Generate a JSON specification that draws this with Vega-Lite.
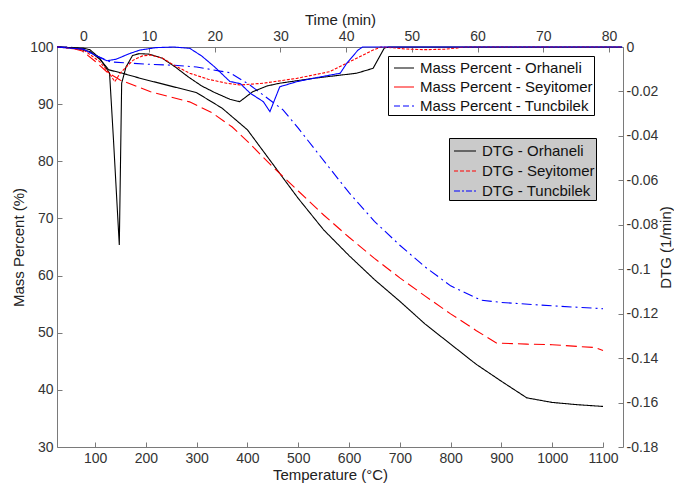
{
  "$schema": "https://vega.github.io/schema/vega-lite/v6.json",
  "width": 566,
  "height": 400,
  "autosize": "none",
  "padding": {"left": 57, "top": 47, "right": 51, "bottom": 37},
  "background": "white",
  "datasets": {
    "mass": [
      {"s": "Mass Percent - Orhaneli", "T": 25, "m": 100},
      {"s": "Mass Percent - Orhaneli", "T": 60, "m": 99.8},
      {"s": "Mass Percent - Orhaneli", "T": 90, "m": 99.2},
      {"s": "Mass Percent - Orhaneli", "T": 110, "m": 97.8},
      {"s": "Mass Percent - Orhaneli", "T": 127, "m": 96},
      {"s": "Mass Percent - Orhaneli", "T": 150, "m": 95.5},
      {"s": "Mass Percent - Orhaneli", "T": 190, "m": 94.5},
      {"s": "Mass Percent - Orhaneli", "T": 265, "m": 92.8},
      {"s": "Mass Percent - Orhaneli", "T": 300, "m": 92},
      {"s": "Mass Percent - Orhaneli", "T": 350, "m": 89.3},
      {"s": "Mass Percent - Orhaneli", "T": 400, "m": 85.5},
      {"s": "Mass Percent - Orhaneli", "T": 450, "m": 79.5},
      {"s": "Mass Percent - Orhaneli", "T": 500, "m": 73.5},
      {"s": "Mass Percent - Orhaneli", "T": 550, "m": 68},
      {"s": "Mass Percent - Orhaneli", "T": 600, "m": 63.5},
      {"s": "Mass Percent - Orhaneli", "T": 650, "m": 59.3},
      {"s": "Mass Percent - Orhaneli", "T": 700, "m": 55.5},
      {"s": "Mass Percent - Orhaneli", "T": 750, "m": 51.5},
      {"s": "Mass Percent - Orhaneli", "T": 800, "m": 48},
      {"s": "Mass Percent - Orhaneli", "T": 850, "m": 44.5},
      {"s": "Mass Percent - Orhaneli", "T": 900, "m": 41.5},
      {"s": "Mass Percent - Orhaneli", "T": 950, "m": 38.6},
      {"s": "Mass Percent - Orhaneli", "T": 1000, "m": 37.8},
      {"s": "Mass Percent - Orhaneli", "T": 1050, "m": 37.4},
      {"s": "Mass Percent - Orhaneli", "T": 1100, "m": 37.1},
      {"s": "Mass Percent - Seyitomer", "T": 25, "m": 100},
      {"s": "Mass Percent - Seyitomer", "T": 50, "m": 99.9},
      {"s": "Mass Percent - Seyitomer", "T": 75, "m": 99.3},
      {"s": "Mass Percent - Seyitomer", "T": 100, "m": 97.5},
      {"s": "Mass Percent - Seyitomer", "T": 125, "m": 95.5},
      {"s": "Mass Percent - Seyitomer", "T": 150, "m": 94.2},
      {"s": "Mass Percent - Seyitomer", "T": 208, "m": 92.2},
      {"s": "Mass Percent - Seyitomer", "T": 286, "m": 90.4},
      {"s": "Mass Percent - Seyitomer", "T": 330, "m": 88.5},
      {"s": "Mass Percent - Seyitomer", "T": 370, "m": 86},
      {"s": "Mass Percent - Seyitomer", "T": 400, "m": 83.5},
      {"s": "Mass Percent - Seyitomer", "T": 450, "m": 79},
      {"s": "Mass Percent - Seyitomer", "T": 500, "m": 74.8},
      {"s": "Mass Percent - Seyitomer", "T": 550, "m": 70.6},
      {"s": "Mass Percent - Seyitomer", "T": 600, "m": 66.7},
      {"s": "Mass Percent - Seyitomer", "T": 650, "m": 63},
      {"s": "Mass Percent - Seyitomer", "T": 700, "m": 59.6},
      {"s": "Mass Percent - Seyitomer", "T": 750, "m": 56.4},
      {"s": "Mass Percent - Seyitomer", "T": 800, "m": 53.3},
      {"s": "Mass Percent - Seyitomer", "T": 850, "m": 50.4},
      {"s": "Mass Percent - Seyitomer", "T": 890, "m": 48.2},
      {"s": "Mass Percent - Seyitomer", "T": 950, "m": 48},
      {"s": "Mass Percent - Seyitomer", "T": 1000, "m": 47.9},
      {"s": "Mass Percent - Seyitomer", "T": 1050, "m": 47.6},
      {"s": "Mass Percent - Seyitomer", "T": 1085, "m": 47.4},
      {"s": "Mass Percent - Seyitomer", "T": 1100, "m": 46.9},
      {"s": "Mass Percent - Tuncbilek", "T": 25, "m": 100},
      {"s": "Mass Percent - Tuncbilek", "T": 50, "m": 100},
      {"s": "Mass Percent - Tuncbilek", "T": 75, "m": 99.7},
      {"s": "Mass Percent - Tuncbilek", "T": 100, "m": 98.6},
      {"s": "Mass Percent - Tuncbilek", "T": 130, "m": 97.4},
      {"s": "Mass Percent - Tuncbilek", "T": 200, "m": 97},
      {"s": "Mass Percent - Tuncbilek", "T": 256, "m": 96.8},
      {"s": "Mass Percent - Tuncbilek", "T": 300, "m": 96.5},
      {"s": "Mass Percent - Tuncbilek", "T": 365, "m": 95.5},
      {"s": "Mass Percent - Tuncbilek", "T": 404, "m": 93.4},
      {"s": "Mass Percent - Tuncbilek", "T": 470, "m": 89},
      {"s": "Mass Percent - Tuncbilek", "T": 500, "m": 85.8},
      {"s": "Mass Percent - Tuncbilek", "T": 560, "m": 79},
      {"s": "Mass Percent - Tuncbilek", "T": 600, "m": 74.5},
      {"s": "Mass Percent - Tuncbilek", "T": 650, "m": 69.5},
      {"s": "Mass Percent - Tuncbilek", "T": 700, "m": 65.3},
      {"s": "Mass Percent - Tuncbilek", "T": 750, "m": 61.5},
      {"s": "Mass Percent - Tuncbilek", "T": 800, "m": 58.2},
      {"s": "Mass Percent - Tuncbilek", "T": 860, "m": 55.7},
      {"s": "Mass Percent - Tuncbilek", "T": 900, "m": 55.3},
      {"s": "Mass Percent - Tuncbilek", "T": 1000, "m": 54.7},
      {"s": "Mass Percent - Tuncbilek", "T": 1100, "m": 54.2}
    ],
    "dtg": [
      {"s": "DTG - Orhaneli", "t": -4, "d": 0},
      {"s": "DTG - Orhaneli", "t": 0, "d": -0.0005},
      {"s": "DTG - Orhaneli", "t": 1, "d": -0.0012},
      {"s": "DTG - Orhaneli", "t": 2.5, "d": -0.005},
      {"s": "DTG - Orhaneli", "t": 4, "d": -0.0118},
      {"s": "DTG - Orhaneli", "t": 4.6, "d": -0.042},
      {"s": "DTG - Orhaneli", "t": 5.48, "d": -0.0891},
      {"s": "DTG - Orhaneli", "t": 5.84, "d": -0.0163},
      {"s": "DTG - Orhaneli", "t": 6.5, "d": -0.009},
      {"s": "DTG - Orhaneli", "t": 7.5, "d": -0.0038},
      {"s": "DTG - Orhaneli", "t": 8.5, "d": -0.003},
      {"s": "DTG - Orhaneli", "t": 10, "d": -0.0032},
      {"s": "DTG - Orhaneli", "t": 12, "d": -0.005},
      {"s": "DTG - Orhaneli", "t": 14, "d": -0.009},
      {"s": "DTG - Orhaneli", "t": 16, "d": -0.0135},
      {"s": "DTG - Orhaneli", "t": 18, "d": -0.0175},
      {"s": "DTG - Orhaneli", "t": 20, "d": -0.0205},
      {"s": "DTG - Orhaneli", "t": 22.3, "d": -0.0235},
      {"s": "DTG - Orhaneli", "t": 23.8, "d": -0.0246},
      {"s": "DTG - Orhaneli", "t": 25.8, "d": -0.0201},
      {"s": "DTG - Orhaneli", "t": 28, "d": -0.0175},
      {"s": "DTG - Orhaneli", "t": 29.9, "d": -0.0163},
      {"s": "DTG - Orhaneli", "t": 35, "d": -0.0141},
      {"s": "DTG - Orhaneli", "t": 41.6, "d": -0.0118},
      {"s": "DTG - Orhaneli", "t": 44.1, "d": -0.0096},
      {"s": "DTG - Orhaneli", "t": 45.8, "d": -0.0005},
      {"s": "DTG - Orhaneli", "t": 46.5, "d": 0},
      {"s": "DTG - Orhaneli", "t": 82, "d": 0},
      {"s": "DTG - Seyitomer", "t": -4, "d": 0},
      {"s": "DTG - Seyitomer", "t": 0, "d": -0.0012},
      {"s": "DTG - Seyitomer", "t": 2.5, "d": -0.0066},
      {"s": "DTG - Seyitomer", "t": 4, "d": -0.012},
      {"s": "DTG - Seyitomer", "t": 4.8, "d": -0.0156},
      {"s": "DTG - Seyitomer", "t": 5.6, "d": -0.0118},
      {"s": "DTG - Seyitomer", "t": 7.6, "d": -0.0059},
      {"s": "DTG - Seyitomer", "t": 9, "d": -0.004},
      {"s": "DTG - Seyitomer", "t": 10.2, "d": -0.0036},
      {"s": "DTG - Seyitomer", "t": 12, "d": -0.005},
      {"s": "DTG - Seyitomer", "t": 14, "d": -0.0085},
      {"s": "DTG - Seyitomer", "t": 16.2, "d": -0.0118},
      {"s": "DTG - Seyitomer", "t": 19, "d": -0.0145},
      {"s": "DTG - Seyitomer", "t": 21.8, "d": -0.0163},
      {"s": "DTG - Seyitomer", "t": 23.9, "d": -0.0171},
      {"s": "DTG - Seyitomer", "t": 27.4, "d": -0.0163},
      {"s": "DTG - Seyitomer", "t": 32.5, "d": -0.0141},
      {"s": "DTG - Seyitomer", "t": 37.5, "d": -0.0111},
      {"s": "DTG - Seyitomer", "t": 40.1, "d": -0.0073},
      {"s": "DTG - Seyitomer", "t": 42.6, "d": -0.0036},
      {"s": "DTG - Seyitomer", "t": 44.1, "d": -0.0014},
      {"s": "DTG - Seyitomer", "t": 45.3, "d": 0},
      {"s": "DTG - Seyitomer", "t": 47, "d": -0.0003},
      {"s": "DTG - Seyitomer", "t": 49, "d": -0.0009},
      {"s": "DTG - Seyitomer", "t": 52, "d": -0.0012},
      {"s": "DTG - Seyitomer", "t": 55, "d": -0.001},
      {"s": "DTG - Seyitomer", "t": 57, "d": -0.0004},
      {"s": "DTG - Seyitomer", "t": 58, "d": 0},
      {"s": "DTG - Seyitomer", "t": 82, "d": 0},
      {"s": "DTG - Tuncbilek", "t": -4, "d": 0},
      {"s": "DTG - Tuncbilek", "t": 0, "d": -0.001},
      {"s": "DTG - Tuncbilek", "t": 2, "d": -0.004},
      {"s": "DTG - Tuncbilek", "t": 3.6, "d": -0.0062},
      {"s": "DTG - Tuncbilek", "t": 5, "d": -0.0055},
      {"s": "DTG - Tuncbilek", "t": 7, "d": -0.003},
      {"s": "DTG - Tuncbilek", "t": 8.6, "d": -0.0014},
      {"s": "DTG - Tuncbilek", "t": 11, "d": -0.0003},
      {"s": "DTG - Tuncbilek", "t": 13.7, "d": 0},
      {"s": "DTG - Tuncbilek", "t": 16.2, "d": -0.0006},
      {"s": "DTG - Tuncbilek", "t": 18, "d": -0.004},
      {"s": "DTG - Tuncbilek", "t": 20, "d": -0.009},
      {"s": "DTG - Tuncbilek", "t": 22.3, "d": -0.0155},
      {"s": "DTG - Tuncbilek", "t": 23.9, "d": -0.0165},
      {"s": "DTG - Tuncbilek", "t": 25.4, "d": -0.0208},
      {"s": "DTG - Tuncbilek", "t": 27.4, "d": -0.0246},
      {"s": "DTG - Tuncbilek", "t": 28.4, "d": -0.0291},
      {"s": "DTG - Tuncbilek", "t": 29.9, "d": -0.0179},
      {"s": "DTG - Tuncbilek", "t": 32.5, "d": -0.0156},
      {"s": "DTG - Tuncbilek", "t": 36, "d": -0.0135},
      {"s": "DTG - Tuncbilek", "t": 39.1, "d": -0.0118},
      {"s": "DTG - Tuncbilek", "t": 40.1, "d": -0.0073},
      {"s": "DTG - Tuncbilek", "t": 41.8, "d": -0.0014},
      {"s": "DTG - Tuncbilek", "t": 42.5, "d": 0},
      {"s": "DTG - Tuncbilek", "t": 82, "d": 0}
    ]
  },
  "layer": [
    {
      "data": {"name": "mass"},
      "encoding": {
        "x": {
          "field": "T", "type": "quantitative",
          "scale": {"domain": [25, 1100], "range": [0, 546], "nice": false, "zero": false},
          "axis": {"orient": "bottom", "values": [100, 200, 300, 400, 500, 600, 700, 800, 900, 1000, 1100], "format": "d", "title": "Temperature (°C)", "titleX": 273, "titlePadding": 2}
        },
        "y": {
          "field": "m", "type": "quantitative",
          "scale": {"domain": [30, 100], "nice": false, "zero": false},
          "axis": {"orient": "left", "values": [30, 40, 50, 60, 70, 80, 90, 100], "title": "Mass Percent (%)", "titlePadding": 3}
        }
      },
      "layer": [
        {
          "mark": {"type": "line", "strokeWidth": 1.1},
          "encoding": {
            "color": {
              "field": "s", "type": "nominal",
              "scale": {"domain": ["Mass Percent - Orhaneli", "Mass Percent - Seyitomer", "Mass Percent - Tuncbilek"], "range": ["#000000", "#ff0000", "#0000ff"]},
              "legend": null
            },
            "strokeDash": {
              "field": "s", "type": "nominal",
              "scale": {"domain": ["Mass Percent - Orhaneli", "Mass Percent - Seyitomer", "Mass Percent - Tuncbilek"], "range": [[1, 0], [11, 5], [10, 4, 2, 4]]},
              "legend": null
            }
          }
        },
        {
          "transform": [{"filter": "false"}],
          "mark": {"type": "line", "strokeWidth": 1.1},
          "encoding": {
            "color": {
              "field": "s", "type": "nominal",
              "scale": {"domain": ["Mass Percent - Orhaneli", "Mass Percent - Seyitomer", "Mass Percent - Tuncbilek"], "range": ["#000000", "#ff0000", "#0000ff"]},
              "legend": {
                "orient": "none", "legendX": 331, "legendY": 9, "title": null,
                "fillColor": "white", "strokeColor": "black", "padding": 1,
                "symbolType": "stroke", "symbolSize": 400, "symbolStrokeWidth": 1.2, "symbolOffset": 4,
                "labelOffset": 5, "rowPadding": 0,
                "labelExpr": "datum.label + '   '"
              }
            },
            "strokeDash": {
              "field": "s", "type": "nominal",
              "scale": {"domain": ["Mass Percent - Orhaneli", "Mass Percent - Seyitomer", "Mass Percent - Tuncbilek"], "range": [[1, 0], [1, 0], [6, 3]]},
              "legend": null
            }
          }
        }
      ],
      "resolve": {"scale": {"color": "independent", "strokeDash": "independent"}}
    },
    {
      "data": {"name": "dtg"},
      "encoding": {
        "x": {
          "field": "t", "type": "quantitative",
          "scale": {"domain": [-4, 82.13], "nice": false, "zero": false},
          "axis": {"orient": "top", "values": [0, 10, 20, 30, 40, 50, 60, 70, 80], "title": "Time (min)", "titlePadding": 2}
        },
        "y": {
          "field": "d", "type": "quantitative",
          "scale": {"domain": [-0.18, 0], "nice": false, "zero": false},
          "axis": {"orient": "right", "values": [-0.18, -0.16, -0.14, -0.12, -0.1, -0.08, -0.06, -0.04, -0.02, 0], "labelExpr": "'' + datum.value", "title": "DTG (1/min)", "titleAngle": 270, "labelPadding": 8, "titlePadding": 16}
        }
      },
      "layer": [
        {
          "mark": {"type": "line", "strokeWidth": 1.1},
          "encoding": {
            "color": {
              "field": "s", "type": "nominal",
              "scale": {"domain": ["DTG - Orhaneli", "DTG - Seyitomer", "DTG - Tuncbilek"], "range": ["#000000", "#ff0000", "#0000ff"]},
              "legend": null
            },
            "strokeDash": {
              "field": "s", "type": "nominal",
              "scale": {"domain": ["DTG - Orhaneli", "DTG - Seyitomer", "DTG - Tuncbilek"], "range": [[1, 0], [3, 1.5], [1, 0]]},
              "legend": null
            }
          }
        },
        {
          "transform": [{"filter": "false"}],
          "mark": {"type": "line", "strokeWidth": 1.1},
          "encoding": {
            "color": {
              "field": "s", "type": "nominal",
              "scale": {"domain": ["DTG - Orhaneli", "DTG - Seyitomer", "DTG - Tuncbilek"], "range": ["#000000", "#ff0000", "#0000ff"]},
              "legend": {
                "orient": "none", "legendX": 392, "legendY": 91, "title": null,
                "fillColor": "#cacaca", "strokeColor": "black", "padding": 1,
                "symbolType": "stroke", "symbolSize": 484, "symbolStrokeWidth": 1.2, "symbolOffset": 3,
                "labelOffset": 5, "rowPadding": -3,
                "labelExpr": "datum.label + ' '"
              }
            },
            "strokeDash": {
              "field": "s", "type": "nominal",
              "scale": {"domain": ["DTG - Orhaneli", "DTG - Seyitomer", "DTG - Tuncbilek"], "range": [[1, 0], [4, 2], [6, 2, 2, 2]]},
              "legend": null
            }
          }
        }
      ],
      "resolve": {"scale": {"color": "independent", "strokeDash": "independent"}}
    }
  ],
  "resolve": {
    "scale": {"x": "independent", "y": "independent", "color": "independent", "strokeDash": "independent"},
    "axis": {"x": "independent", "y": "independent"},
    "legend": {"color": "independent"}
  },
  "config": {
    "view": {"stroke": null},
    "axis": {
      "grid": false, "domainColor": "#7a7a7a", "tickColor": "#7a7a7a", "domainWidth": 1, "tickWidth": 1,
      "labelColor": "#333333", "labelFont": "Liberation Sans", "labelFontSize": 14,
      "titleFont": "Liberation Sans", "titleFontSize": 15, "titleFontWeight": "normal", "titleColor": "#222222",
      "tickSize": -5, "labelPadding": 9, "labelFlush": false, "labelOverlap": false
    },
    "legend": {
      "labelFont": "Liberation Sans", "labelFontSize": 15, "labelColor": "#111111", "labelLimit": 400
    }
  }
}
